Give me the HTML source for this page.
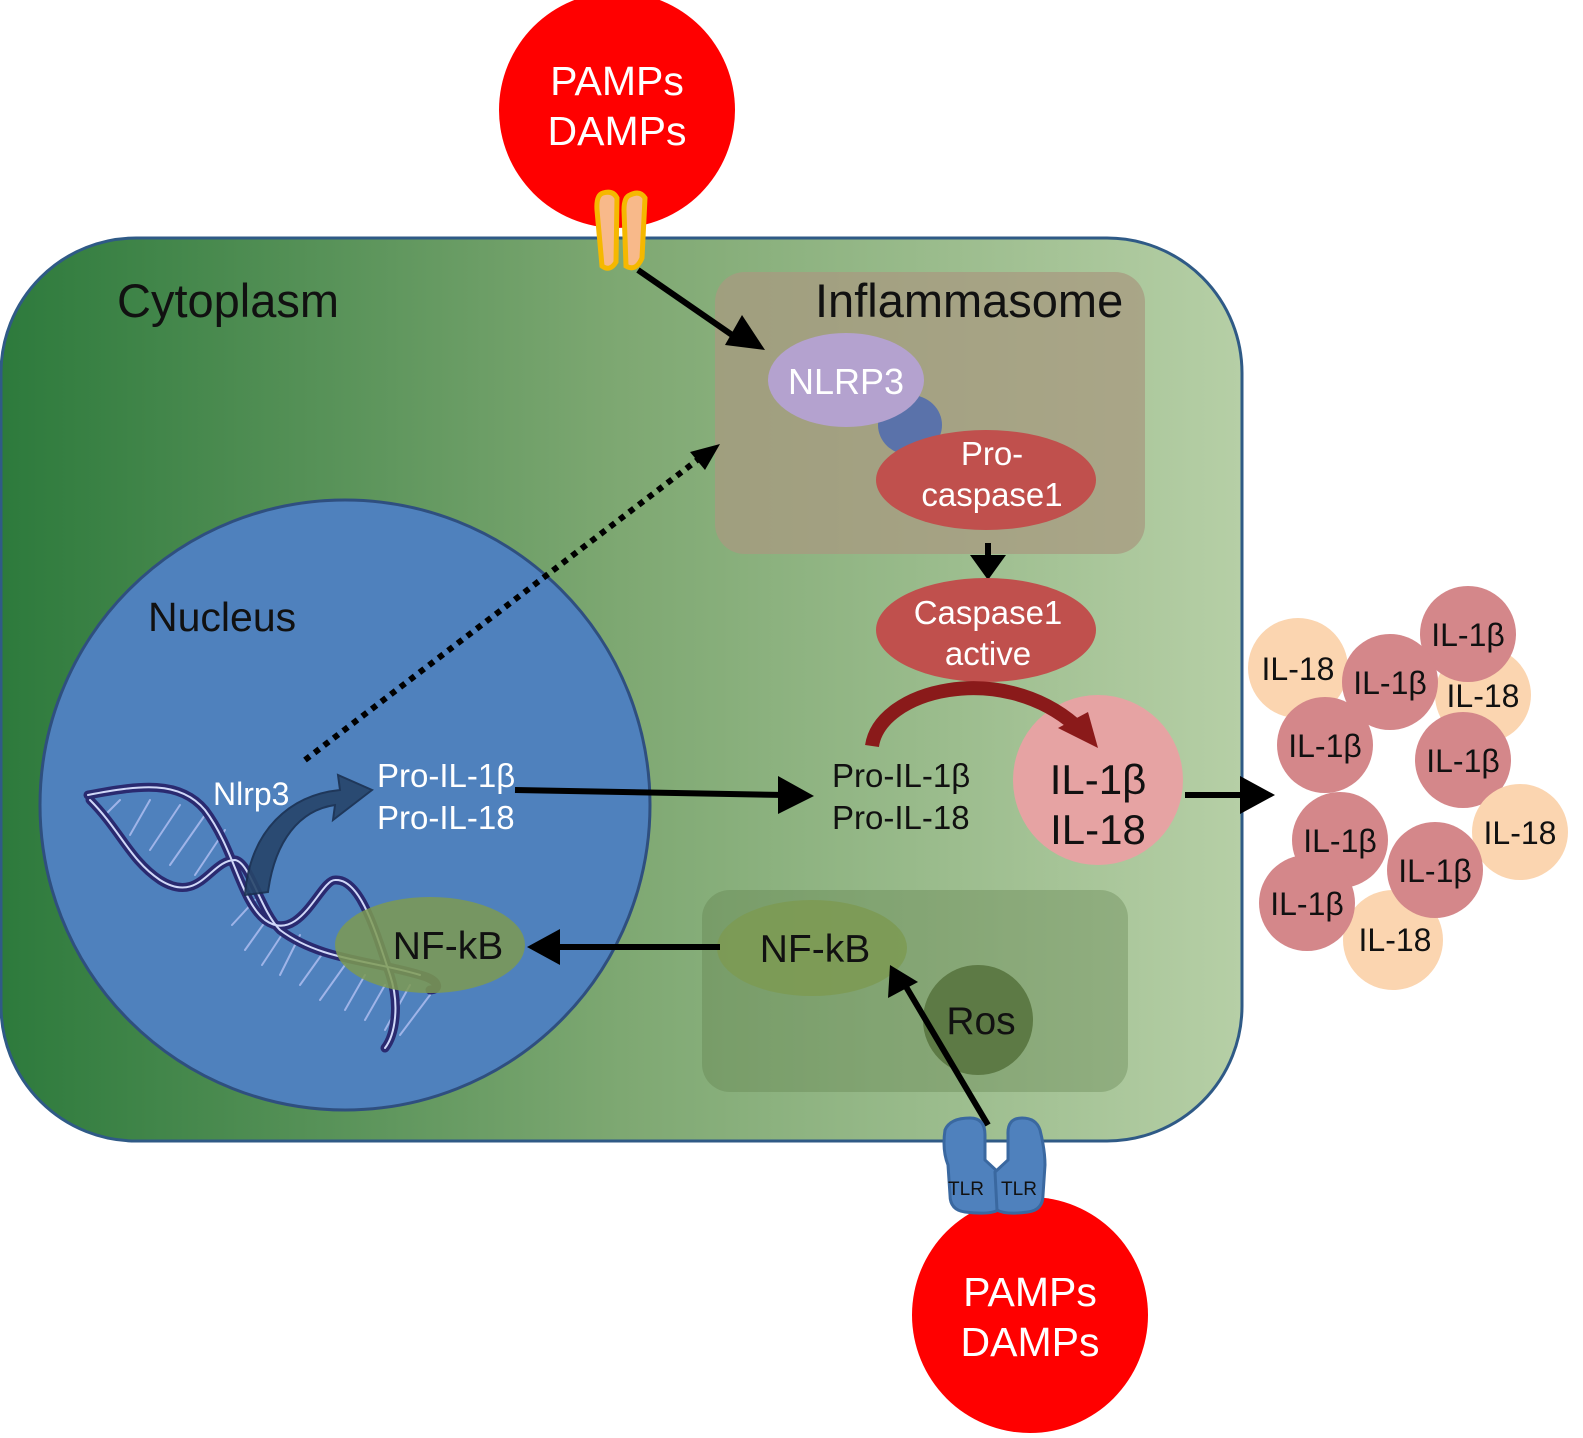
<!DOCTYPE html>
<html><head><meta charset="utf-8"><style>
html,body{margin:0;padding:0;background:#fff}
svg{display:block}
text{font-family:"Liberation Sans",sans-serif}
</style></head><body>
<svg width="1583" height="1438" viewBox="0 0 1583 1438" xmlns="http://www.w3.org/2000/svg">
<defs>
<linearGradient id="cg" x1="0" x2="1" y1="0" y2="0">
<stop offset="0" stop-color="#2d7a3c"/><stop offset="0.5" stop-color="#7ea872"/><stop offset="1" stop-color="#b6cfa6"/>
</linearGradient>
</defs>
<rect x="1" y="238" width="1241" height="903" rx="135" fill="url(#cg)" stroke="#2f5a86" stroke-width="3"/>
<circle cx="617" cy="110" r="118" fill="#ff0000"/>
<text x="617" y="95" font-size="41" fill="#fff" text-anchor="middle">PAMPs</text>
<text x="617" y="145" font-size="41" fill="#fff" text-anchor="middle">DAMPs</text>
<path d="M603,193 Q613,190 617,198 L616,262 Q610,272 602,266 L597,210 Q596,195 603,193z" fill="#f8b98a" stroke="#f5b800" stroke-width="5"/>
<path d="M630,195 Q640,190 645,198 L642,258 Q636,272 626,266 L624,210 Q624,197 630,195z" fill="#f8b98a" stroke="#f5b800" stroke-width="5"/>
<text x="117" y="317" font-size="47" fill="#111">Cytoplasm</text>
<rect x="715" y="272" width="430" height="282" rx="30" fill="#a89a80" opacity="0.75"/>
<text x="815" y="317" font-size="47" fill="#111">Inflammasome</text>
<line x1="638" y1="270" x2="735" y2="337" stroke="#000" stroke-width="6"/>
<path d="M725,345 L765,350 L742,315z" fill="#000"/>
<ellipse cx="910" cy="425" rx="32" ry="30" fill="#5a72aa"/>
<ellipse cx="846" cy="380" rx="78" ry="47" fill="#b4a2cf"/>
<text x="846" y="394" font-size="36" fill="#fff" text-anchor="middle">NLRP3</text>
<ellipse cx="986" cy="480" rx="110" ry="50" fill="#c0504d"/>
<text x="992" y="465" font-size="33" fill="#fff" text-anchor="middle">Pro-</text>
<text x="992" y="506" font-size="33" fill="#fff" text-anchor="middle">caspase1</text>
<line x1="988" y1="543" x2="988" y2="560" stroke="#000" stroke-width="6"/>
<path d="M970,555 L1006,555 L988,580z" fill="#000"/>
<ellipse cx="986" cy="630" rx="110" ry="52" fill="#c0504d"/>
<text x="988" y="624" font-size="33" fill="#fff" text-anchor="middle">Caspase1</text>
<text x="988" y="665" font-size="33" fill="#fff" text-anchor="middle">active</text>
<circle cx="345" cy="805" r="305" fill="#4f81bd" stroke="#2f4f7f" stroke-width="3"/>
<text x="148" y="631" font-size="41" fill="#111">Nucleus</text>
<!-- DNA -->
<g fill="none" stroke-linecap="round">
<g stroke="#9fb4e8" stroke-width="2">
<line x1="120" y1="800" x2="105" y2="815"/><line x1="150" y1="800" x2="130" y2="835"/><line x1="180" y1="805" x2="150" y2="850"/><line x1="205" y1="815" x2="170" y2="865"/><line x1="225" y1="830" x2="195" y2="875"/>
<line x1="255" y1="900" x2="232" y2="925"/><line x1="270" y1="915" x2="245" y2="950"/><line x1="285" y1="930" x2="262" y2="965"/><line x1="300" y1="935" x2="280" y2="975"/>
<line x1="325" y1="950" x2="300" y2="985"/><line x1="345" y1="965" x2="320" y2="1000"/><line x1="365" y1="975" x2="345" y2="1010"/><line x1="385" y1="985" x2="365" y2="1020"/><line x1="410" y1="985" x2="385" y2="1030"/><line x1="430" y1="995" x2="400" y2="1035"/>
</g>
<path d="M88,795 C140,785 180,780 205,810 C235,850 240,900 265,920 C300,945 320,880 335,880 C360,878 375,930 390,975 C400,1005 395,1035 385,1048" stroke="#2a2a70" stroke-width="9"/>
<path d="M90,800 C120,830 130,860 160,880 C200,905 210,860 235,860 C250,862 260,910 280,930 C320,960 370,960 420,975 C440,980 440,990 430,990" stroke="#2a2a70" stroke-width="9"/>
<path d="M88,795 C140,785 180,780 205,810 C235,850 240,900 265,920 C300,945 320,880 335,880 C360,878 375,930 390,975 C400,1005 395,1035 385,1048" stroke="#d0d8f8" stroke-width="2"/>
<path d="M90,800 C120,830 130,860 160,880 C200,905 210,860 235,860 C250,862 260,910 280,930 C320,960 370,960 420,975" stroke="#d0d8f8" stroke-width="2"/>
</g>
<path d="M245,895 C250,830 290,795 340,790 L338,775 L372,790 L333,820 L335,805 C300,810 275,840 268,892z" fill="#27456a" stroke="#1a3050" stroke-width="2" opacity="0.9"/>
<text x="213" y="805" font-size="32" fill="#fff">Nlrp3</text>
<text x="377" y="787" font-size="33" fill="#fff">Pro-IL-1β</text>
<text x="377" y="829" font-size="33" fill="#fff">Pro-IL-18</text>
<line x1="305" y1="760" x2="700" y2="458" stroke="#000" stroke-width="6" stroke-dasharray="6,6"/>
<path d="M720,444 L690,452 L705,470z" fill="#000"/>
<line x1="515" y1="790" x2="785" y2="795" stroke="#000" stroke-width="6"/>
<path d="M778,776 L814,796 L778,814z" fill="#000"/>
<text x="832" y="787" font-size="33" fill="#111">Pro-IL-1β</text>
<text x="832" y="829" font-size="33" fill="#111">Pro-IL-18</text>
<circle cx="1098" cy="780" r="85" fill="#e6a3a3"/>
<text x="1098" y="794" font-size="42" fill="#111" text-anchor="middle">IL-1β</text>
<text x="1098" y="844" font-size="42" fill="#111" text-anchor="middle">IL-18</text>
<path d="M872,746 C880,690 1000,660 1075,725" fill="none" stroke="#8a1a1a" stroke-width="14"/>
<path d="M1058,728 L1098,748 L1088,712z" fill="#8a1a1a"/>
<line x1="1185" y1="795" x2="1245" y2="795" stroke="#000" stroke-width="6"/>
<path d="M1240,776 L1275,795 L1240,814z" fill="#000"/>
<!-- cluster -->
<g font-size="32" fill="#111" text-anchor="middle">
<circle cx="1298" cy="668" r="50" fill="#fbd5b0"/><text x="1298" y="680">IL-18</text>
<circle cx="1483" cy="695" r="48" fill="#fbd5b0"/>
<circle cx="1468" cy="634" r="48" fill="#d4878a"/><text x="1468" y="646">IL-1β</text>
<circle cx="1390" cy="682" r="48" fill="#d4878a"/><text x="1390" y="694">IL-1β</text>
<text x="1483" y="707">IL-18</text>
<circle cx="1325" cy="745" r="48" fill="#d4878a"/><text x="1325" y="757">IL-1β</text>
<circle cx="1463" cy="760" r="48" fill="#d4878a"/><text x="1463" y="772">IL-1β</text>
<circle cx="1520" cy="832" r="48" fill="#fbd5b0"/><text x="1520" y="844">IL-18</text>
<circle cx="1393" cy="940" r="50" fill="#fbd5b0"/>
<circle cx="1340" cy="840" r="48" fill="#d4878a"/><text x="1340" y="852">IL-1β</text>
<circle cx="1435" cy="870" r="48" fill="#d4878a"/><text x="1435" y="882">IL-1β</text>
<circle cx="1307" cy="903" r="48" fill="#d4878a"/><text x="1307" y="915">IL-1β</text>
<text x="1395" y="951">IL-18</text>
</g>
<rect x="702" y="890" width="426" height="202" rx="28" fill="#5f7f4a" opacity="0.35"/>
<ellipse cx="430" cy="945" rx="95" ry="48" fill="#7d9a52" opacity="0.85"/>
<text x="448" y="959" font-size="39" fill="#111" text-anchor="middle">NF-kB</text>
<ellipse cx="812" cy="948" rx="95" ry="48" fill="#7d9a52" opacity="0.85"/>
<text x="815" y="962" font-size="39" fill="#111" text-anchor="middle">NF-kB</text>
<line x1="720" y1="947" x2="555" y2="947" stroke="#000" stroke-width="6"/>
<path d="M560,929 L527,947 L560,965z" fill="#000"/>
<circle cx="978" cy="1020" r="55" fill="#5d7a45"/>
<text x="981" y="1034" font-size="39" fill="#111" text-anchor="middle">Ros</text>
<line x1="988" y1="1125" x2="905" y2="985" stroke="#000" stroke-width="6"/>
<path d="M890,965 L888,998 L918,982z" fill="#000"/>
<circle cx="1030" cy="1315" r="118" fill="#ff0000"/>
<text x="1030" y="1306" font-size="41" fill="#fff" text-anchor="middle">PAMPs</text>
<text x="1030" y="1356" font-size="41" fill="#fff" text-anchor="middle">DAMPs</text>
<path d="M945,1130 Q950,1118 970,1118 Q985,1118 985,1135 L985,1160 L998,1172 L998,1210 Q990,1215 965,1212 Q950,1210 950,1195 L948,1165 Q942,1150 945,1130z" fill="#4f81bd" stroke="#3a68a0" stroke-width="3"/>
<path d="M1040,1130 Q1036,1118 1022,1118 Q1007,1118 1008,1135 L1008,1160 L995,1172 L997,1210 Q1005,1215 1028,1212 Q1043,1210 1043,1195 L1045,1165 Q1045,1150 1040,1130z" fill="#4f81bd" stroke="#3a68a0" stroke-width="3"/>
<text x="966" y="1195" font-size="19" fill="#111" text-anchor="middle">TLR</text>
<text x="1019" y="1195" font-size="19" fill="#111" text-anchor="middle">TLR</text>
</svg>
</body></html>
